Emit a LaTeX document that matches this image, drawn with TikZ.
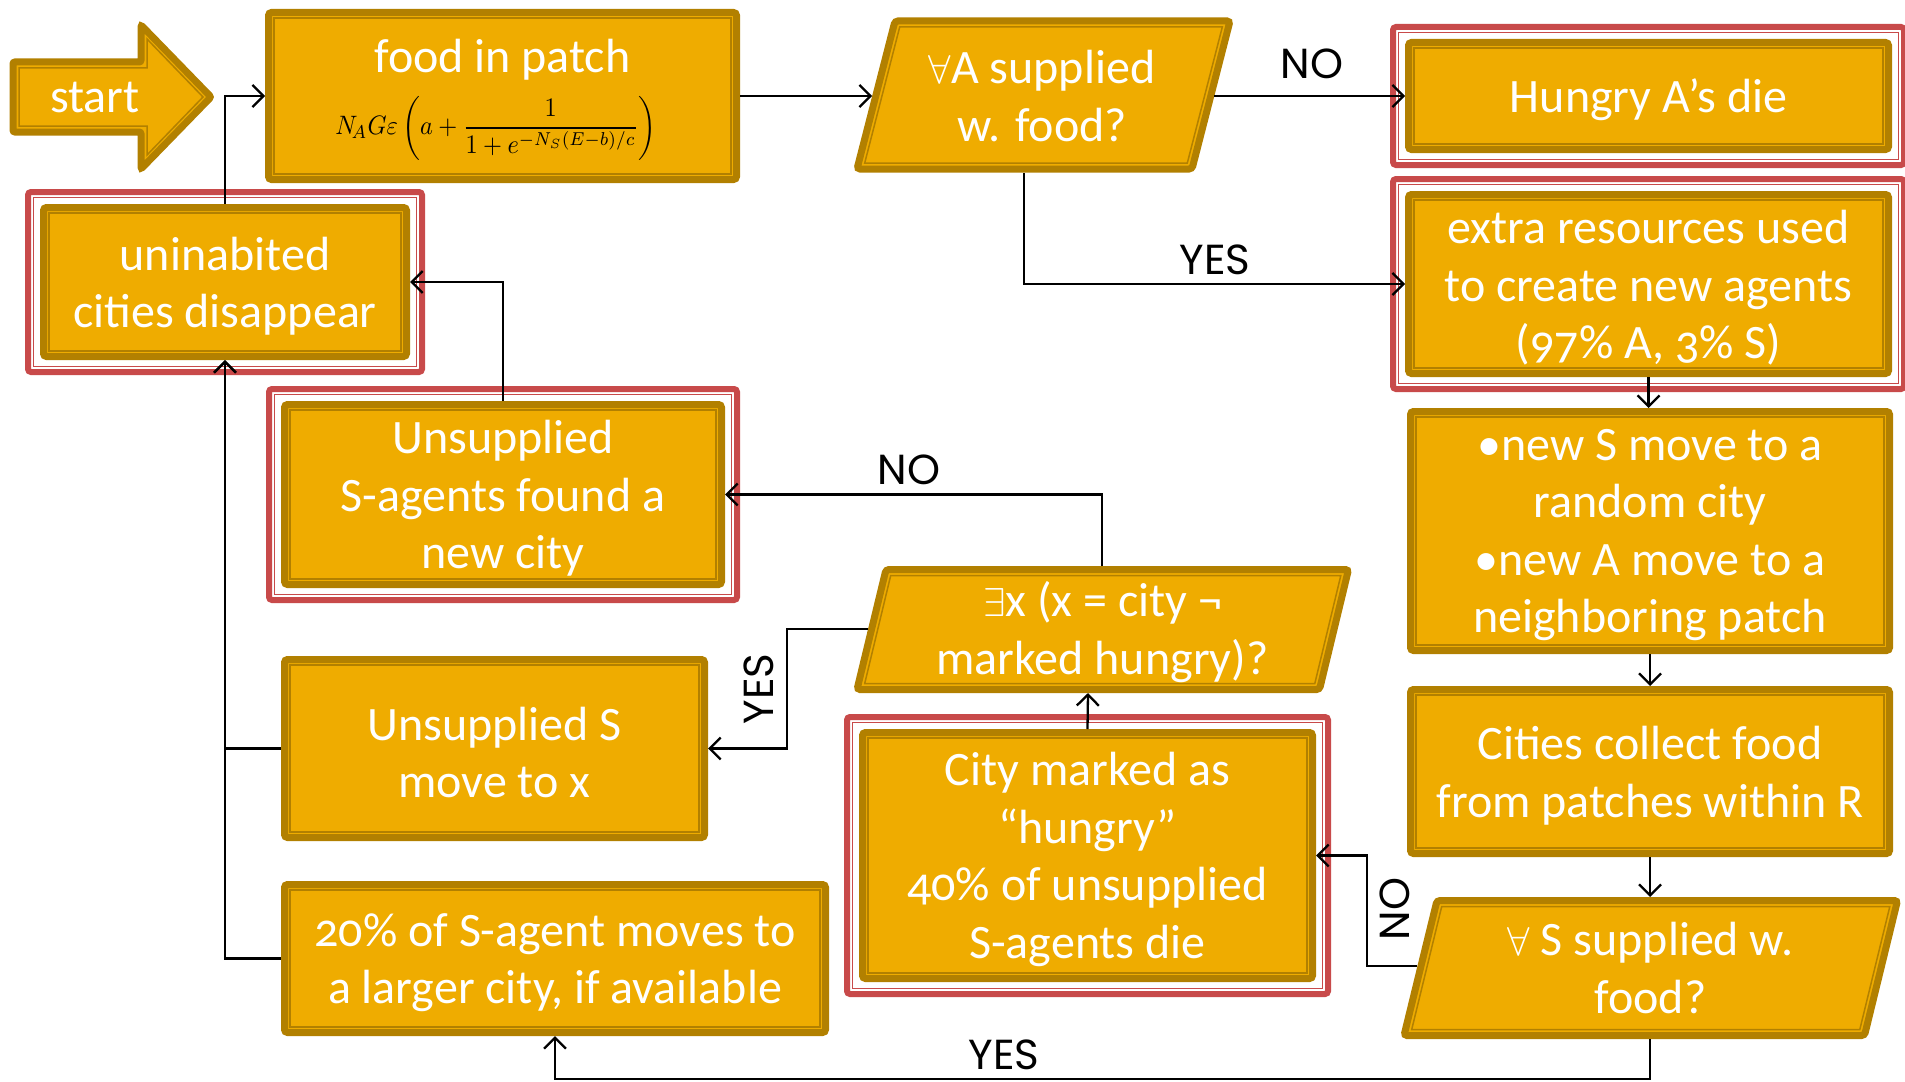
\documentclass[tikz,border=0pt]{standalone}
\usepackage{fontspec}
\usepackage{graphicx}
\setmainfont{Carlito}[Numbers=OldStyle]
\newfontfamily\lblfont{Poppins}
\usetikzlibrary{arrows.meta,calc}
\definecolor{gfill}{RGB}{239,172,0}
\definecolor{gdark}{RGB}{178,128,0}
\definecolor{rframe}{RGB}{200,74,74}
\tikzset{
  gbox/.style={draw=gdark, line width=7pt, fill=gfill, rounded corners=3pt, inner sep=0pt},
  gshape/.style={draw=gdark, line width=7pt, fill=gfill, rounded corners=3pt},
  inl/.style={draw=gdark, line width=1.5pt},
  redband/.style={draw=rframe, line width=6pt, rounded corners=3pt},
  redthin/.style={draw=rframe, line width=1.5pt},
  arr/.style={draw=black, line width=2.3pt, -{Straight Barb[length=11pt,width=22pt]}},
  lbl/.style={text=black, font=\lblfont\fontsize{42}{50}\selectfont, inner sep=0pt},
  wtxt/.style={text=white, font=\fontsize{48}{57.5}\selectfont, inner sep=0pt, align=center},
}
% gold rectangle: name, cx, cy, width, height, text
\newcommand\gbx[6]{%
  \node[gbox, minimum width=#4, minimum height=#5] (#1) at (#2,#3) {};
  \node[wtxt] (#1-t) at (#2,{#3+4}) {#6};}
% parallelogram: x bottom-left, y bottom, x top-left, y top, width
\newcommand\gpar[5]{%
  \draw[gshape] (#1,#2) -- (#3,#4) -- ({#3+#5},#4) -- ({#1+#5},#2) -- cycle;
  \draw[inl] ({#1+7.7},{#2-6}) -- ({#3+4.7},{#4+6}) -- ({#3+#5-7.7},{#4+6}) -- ({#1+#5-4.7},{#2-6}) -- cycle;}
\newcommand\qall{\resizebox{!}{28pt}{$\forall$}}
\newcommand\qex{\resizebox{!}{28pt}{$\exists$}}
\begin{document}
\begin{tikzpicture}[x=1pt,y=-1pt]
\useasboundingbox (0,0) rectangle (1905,1081);
% start arrow
\draw[gshape, rounded corners=2pt]
  (13,62) -- (141,62) -- (141,25) -- (211,97) -- (141,169) -- (141,132) -- (13,132) -- cycle;
\draw[inl] (19,68) -- (147,68) -- (147,39) -- (203,97) -- (147,155) -- (147,126) -- (19,126) -- cycle;
\node[wtxt] (start) at (95,97) {start};

% rectangles
\node[gbox, minimum width=468, minimum height=167] (food) at (502.5,96) {};
\node[wtxt, anchor=base] (foodt) at (502.5,73) {food in patch};
\node[text=black, inner sep=0pt] (foodf) at (496,128) {\resizebox*{321pt}{64pt}{$\displaystyle N_{\!A}G\varepsilon\left(a+\frac{1}{1+e^{-N_S(E-b)/c}}\right)$}};
\gbx{hungry}{1648.5}{96}{480}{107}{Hungry A’s die}
\gbx{extra}{1648.5}{284}{480}{179}{extra resources used\\to create new agents\\(97\% A, 3\% S)}
\gbx{newS}{1650}{531}{479}{239}{•new S move to a\\random city\\•new A move to a\\neighboring patch}
\gbx{cities}{1650}{771.5}{479}{164}{Cities collect food\\from patches within R}
\gbx{city}{1087.5}{855.5}{450}{246}{City marked as\\“hungry”\\40\% of unsupplied\\S-agents die}
\gbx{found}{503}{494.5}{437}{180}{Unsupplied\\S-agents found a\\new city}
\gbx{unin}{225}{282}{363}{149}{uninabited\\cities disappear}
\gbx{move}{494.5}{748.5}{420}{178}{Unsupplied S\\move to x}
\gbx{p20}{555}{958.5}{541}{148}{20\% of S-agent moves to\\a larger city, if available}

\foreach \n in {food,hungry,extra,newS,cities,city,found,unin,move,p20}
  \draw[inl] ([shift={(9pt,-9pt)}]\n.north west) rectangle ([shift={(-9pt,9pt)}]\n.south east);
\foreach \n in {hungry,extra,city,found,unin}{
  \draw[redband] ([shift={(-12pt,12pt)}]\n.north west) rectangle ([shift={(12pt,-12pt)}]\n.south east);
  \draw[redthin] ([shift={(-6.5pt,6.5pt)}]\n.north west) rectangle ([shift={(6.5pt,-6.5pt)}]\n.south east);
}

% parallelograms
\gpar{857}{169}{895}{21}{335}
\node[wtxt] (qA) at (1042,96) {\qall A supplied\\w. food?};
\coordinate (qA-w) at (872,96);
\coordinate (qA-e) at (1214,96);
\coordinate (qA-s) at (1024,173);
\gpar{857}{689.5}{886}{569.5}{462.5}
\node[wtxt] (qX) at (1102.5,632) {\qex x (x = city ¬\\marked hungry)?};
\coordinate (qX-s) at (1088,693);
\coordinate (qX-n) at (1102,566);
\coordinate (qX-w) at (868,629);
\gpar{1404}{1035.5}{1437}{900.5}{460.5}
\node[wtxt] (qS) at (1650.5,968) {\qall\ S supplied w.\\food?};
\coordinate (qS-n) at (1650,897);
\coordinate (qS-w) at (1417,966);
\coordinate (qS-s) at (1650,1039);

% connectors
\coordinate (ybot) at (1650,1079);
\draw[arr] (unin.north) |- (food.west);
\draw[arr] (food.east) -- (qA-w);
\draw[arr] (qA-e) -- (hungry.west);
\draw[arr] (qA-s) |- (extra.west);
\draw[arr] (extra.south) -- (extra.south |- newS.north);
\draw[arr] (newS) -- (cities);
\draw[arr] (cities.south) -- (qS-n);
\draw[arr] (qS-w) -- ++(-50,0) |- (city.east);
\draw[arr] (qS-s) -- (ybot) -| (p20.south);
\draw[arr] (city.north) -- (qX-s);
\draw[arr] (qX-n) |- (found.east);
\draw[arr] (qX-w) -- ++(-81,0) |- (move.east);
\draw[arr] (found.north) |- (unin.east);
\draw[arr] (move.west) -| (unin.south);
\draw[arr] (p20.west) -| (unin.south);

% labels
\node[lbl] (no1) at (1312,64) {NO};
\node[lbl] (yes1) at (1215,260) {YES};
\node[lbl] (no2) at (909,470) {NO};
\node[lbl, rotate=90] (yes2) at (759,689) {YES};
\node[lbl, rotate=90] (no3) at (1395,909) {NO};
\node[lbl] (yes3) at (1004,1055) {YES};
\end{tikzpicture}
\end{document}
